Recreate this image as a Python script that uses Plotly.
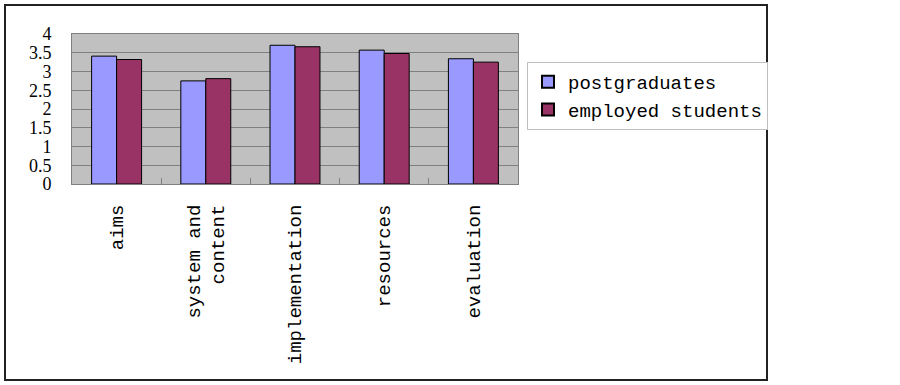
import plotly.graph_objects as go

categories = ["aims", "system and<br>content", "implementation", "resources", "evaluation"]
postgraduates = [3.41, 2.75, 3.70, 3.57, 3.34]
employed_students = [3.32, 2.81, 3.66, 3.48, 3.25]
y_ticks = [0, 0.5, 1, 1.5, 2, 2.5, 3, 3.5, 4]
y_tick_labels = ["0", "0.5", "1", "1.5", "2", "2.5", "3", "3.5", "4"]

FONT = "Liberation Mono"

fig = go.Figure()
fig.add_trace(go.Bar(x=categories, y=postgraduates, name="postgraduates",
                     marker=dict(color="#9999FF", line=dict(color="#000000", width=1))))
fig.add_trace(go.Bar(x=categories, y=employed_students, name="employed students",
                     marker=dict(color="#993366", line=dict(color="#000000", width=1))))

L, R, T, B = 72, 518, 34, 184
W, H = R - L, B - T

def px(x):
    return (x - L) / W

def py(y):
    return (B - y) / H

fig.update_layout(
    width=900, height=385,
    margin=dict(l=L, r=900 - R, t=T, b=385 - B, pad=0, autoexpand=False),
    paper_bgcolor="white",
    plot_bgcolor="#C0C0C0",
    barmode="group",
    bargap=0.44,
    bargroupgap=0,
    font=dict(family=FONT, size=19, color="#000000"),
    legend=dict(
        x=px(527), y=py(62), xanchor="left", yanchor="top",
        bgcolor="white", bordercolor="#C0C0C0", borderwidth=1,
        font=dict(family=FONT, size=19), tracegroupgap=0,
        itemsizing="constant",
    ),
    xaxis=dict(
        automargin=False,
        showgrid=False, showline=True, linecolor="#808080", linewidth=1, mirror=True,
        ticks="inside", tickson="boundaries", ticklen=6, tickcolor="#808080",
        tickangle=-90, tickfont=dict(family=FONT, size=19), ticklabelstandoff=12,
    ),
    yaxis=dict(
        automargin=False,
        range=[0, 4], tickvals=y_ticks, ticktext=y_tick_labels,
        showgrid=True, gridcolor="#808080", gridwidth=1,
        showline=True, linecolor="#808080", linewidth=1, mirror=True,
        ticks="", tickfont=dict(family="Liberation Serif", size=18),
        ticklabelstandoff=16, zeroline=False,
    ),
    shapes=[dict(type="rect", xref="paper", yref="paper",
                 x0=px(5), x1=px(767), y0=py(380), y1=py(5),
                 line=dict(color="#222222", width=2), layer="below")],
)

fig.write_html("out.html", config={"displayModeBar": False},
               post_script="document.body.style.margin='0';")
